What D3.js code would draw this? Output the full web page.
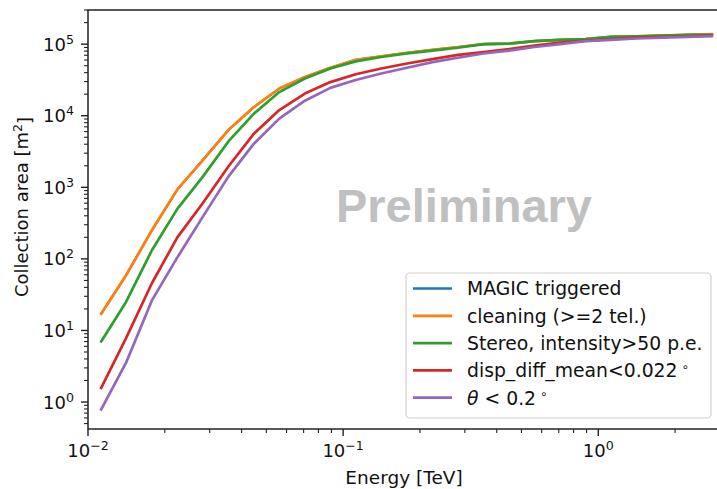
<!DOCTYPE html>
<html>
<head>
<meta charset="utf-8">
<script src="https://cdn.jsdelivr.net/npm/d3@7"></script>
<style>
  html, body { margin: 0; padding: 0; background: #fff; }
  svg { display: block; }
  text { font-family: "DejaVu Sans", sans-serif; fill: #111; }
</style>
</head>
<body>
<svg id="chart" width="717" height="489"></svg>
<script>
// Energy bin centers [TeV]
const energy = [0.0112, 0.0141, 0.0178, 0.0224, 0.0282, 0.0355, 0.0447, 0.0562, 0.0708, 0.0891,
  0.112, 0.141, 0.178, 0.224, 0.282, 0.355, 0.447, 0.562, 0.708, 0.891,
  1.12, 1.41, 1.78, 2.24, 2.82];

// Collection area [m^2]
const magicTriggered = [16.6, 59, 251, 933, 2400, 6310, 13200, 24000, 34700, 46800,
  60300, 67600, 75900, 83200, 91200, 100000, 102000, 110000, 115000, 117500,
  126000, 129000, 132000, 135000, 138000];
const cleaning = [16.6, 59, 251, 933, 2400, 6310, 13200, 24000, 34700, 46800,
  60300, 67600, 75900, 83200, 91200, 100000, 102000, 110000, 115000, 117500,
  126000, 129000, 132000, 135000, 138000];
const stereo = [6.8, 25, 132, 500, 1410, 4370, 10700, 21400, 33100, 45700,
  57500, 66100, 74100, 81300, 89100, 100000, 102000, 110000, 115000, 117500,
  126000, 129000, 132000, 135000, 135000];
const dispDiff = [1.51, 7.8, 45.7, 200, 603, 1950, 5620, 12000, 20400, 29500,
  38000, 45700, 53700, 61700, 70800, 77600, 85100, 95500, 105000, 112000,
  117500, 123000, 126000, 129000, 132000];
const theta = [0.76, 3.55, 26.3, 105, 389, 1410, 4070, 9120, 16200, 24500,
  31600, 38900, 46800, 56200, 64600, 74100, 81300, 91200, 100000, 110000,
  115000, 120000, 123000, 126000, 129000];

const seriesNames = ["MAGIC triggered", "cleaning (>=2 tel.)", "Stereo, intensity>50 p.e.", "disp_diff_mean<0.022", "θ < 0.2"];
const seriesValues = [magicTriggered, cleaning, stereo, dispDiff, theta];
const colors = ["#1f77b4", "#ff7f0e", "#2ca02c", "#d62728", "#9467bd"];

const xTicks = [0.01, 0.1, 1];
const xTickExp = ["−2", "−1", "0"];
const yTicks = [1, 10, 100, 1000, 10000, 100000];
const yTickExp = ["0", "1", "2", "3", "4", "5"];
const xDomain = [0.01, 3.0];
const yDomain = [0.42, 3.0e5];

const svg = d3.select("#chart");
const m = { left: 88, top: 10, right: 720, bottom: 429 };

const x = d3.scaleLog().domain(xDomain).range([m.left, m.right]);
const y = d3.scaleLog().domain(yDomain).range([m.bottom, m.top]);

// clip
svg.append("defs").append("clipPath").attr("id", "clip")
  .append("rect").attr("x", m.left).attr("y", m.top)
  .attr("width", m.right - m.left).attr("height", m.bottom - m.top);

// Preliminary watermark
svg.append("text")
  .attr("x", 464).attr("y", 222)
  .attr("text-anchor", "middle")
  .style("font-family", "'Liberation Sans', Arial, sans-serif")
  .style("font-weight", "bold")
  .style("font-size", "47px")
  .style("fill", "#c0c0c0")
  .text("Preliminary");

// lines
const line = d3.line().x((d, i) => x(energy[i])).y(d => y(d));
const g = svg.append("g").attr("clip-path", "url(#clip)");
seriesValues.forEach((vals, si) => {
  g.append("path").datum(vals)
    .attr("d", line)
    .attr("fill", "none")
    .attr("stroke", colors[si])
    .attr("stroke-width", si === 0 ? 2.2 : 2.7)
    .attr("stroke-linejoin", "round");
});

// minor ticks
function minorTicks(domain) {
  const out = [];
  const lo = Math.floor(Math.log10(domain[0])), hi = Math.ceil(Math.log10(domain[1]));
  for (let e = lo; e <= hi; e++) for (let k = 2; k <= 9; k++) {
    const v = k * Math.pow(10, e);
    if (v >= domain[0] && v <= domain[1]) out.push(v);
  }
  return out;
}

const axisCol = "#222";
const fs = 18;

// x axis
const xAxis = svg.append("g");
minorTicks(xDomain).forEach(v => {
  xAxis.append("line").attr("x1", x(v)).attr("x2", x(v))
    .attr("y1", m.bottom).attr("y2", m.bottom + 4)
    .attr("stroke", axisCol).attr("stroke-width", 1.1);
});
xTicks.forEach((v, i) => {
  xAxis.append("line").attr("x1", x(v)).attr("x2", x(v))
    .attr("y1", m.bottom).attr("y2", m.bottom + 7)
    .attr("stroke", axisCol).attr("stroke-width", 1.4);
  const t = xAxis.append("text").attr("x", x(v)).attr("y", m.bottom + 28)
    .attr("text-anchor", "middle").style("font-size", fs + "px");
  t.append("tspan").text("10");
  t.append("tspan").attr("dy", "-0.55em").style("font-size", (fs * 0.7) + "px").text(xTickExp[i]);
});

// y axis
const yAxis = svg.append("g");
minorTicks(yDomain).forEach(v => {
  yAxis.append("line").attr("x1", m.left - 4).attr("x2", m.left)
    .attr("y1", y(v)).attr("y2", y(v))
    .attr("stroke", axisCol).attr("stroke-width", 1.1);
});
yTicks.forEach((v, i) => {
  yAxis.append("line").attr("x1", m.left - 7).attr("x2", m.left)
    .attr("y1", y(v)).attr("y2", y(v))
    .attr("stroke", axisCol).attr("stroke-width", 1.4);
  const t = yAxis.append("text").attr("x", m.left - 14).attr("y", y(v) + 6.5)
    .attr("text-anchor", "end").style("font-size", fs + "px");
  t.append("tspan").text("10");
  t.append("tspan").attr("dy", "-0.55em").style("font-size", (fs * 0.7) + "px").text(yTickExp[i]);
});

// spines
svg.append("rect").attr("x", m.left).attr("y", m.top)
  .attr("width", m.right - m.left).attr("height", m.bottom - m.top)
  .attr("fill", "none").attr("stroke", axisCol).attr("stroke-width", 1.5);

// axis labels
svg.append("text").attr("x", 404).attr("y", 484)
  .attr("text-anchor", "middle").style("font-size", "18.5px")
  .text("Energy [TeV]");

const yl = svg.append("text")
  .attr("transform", "translate(28, 207) rotate(-90)")
  .attr("text-anchor", "middle").style("font-size", "18px");
yl.append("tspan").text("Collection area [m");
yl.append("tspan").attr("dy", "-0.5em").style("font-size", "12.5px").text("2");
yl.append("tspan").attr("dy", "0.5em").text("]");

// legend
const lg = svg.append("g");
const lx = 406, ly = 273, lw = 305, lh = 145;
lg.append("rect").attr("x", lx).attr("y", ly).attr("width", lw).attr("height", lh)
  .attr("rx", 4).attr("fill", "#fff").attr("fill-opacity", 0.85)
  .attr("stroke", "#d0d0d0").attr("stroke-width", 1.2);
seriesNames.forEach((name, i) => {
  const cy = 288.5 + i * 27.3;
  lg.append("line").attr("x1", lx + 7).attr("x2", lx + 46)
    .attr("y1", cy).attr("y2", cy)
    .attr("stroke", colors[i]).attr("stroke-width", 2.7);
  const t = lg.append("text").attr("x", lx + 61).attr("y", cy + 6.8)
    .style("font-size", "18.8px");
  if (i === 4) {
    t.append("tspan").style("font-style", "italic").text("θ");
    t.append("tspan").text(" < 0.2");
  } else if (i === 3) {
    t.append("tspan").text("disp_diff_mean<0.022");
  } else {
    t.append("tspan").text(name);
  }
  if (i >= 3) {
    t.append("tspan").attr("dx", 4).attr("dy", "-0.55em").style("font-size", "12px").text("∘");
  }
});
</script>
</body>
</html>
